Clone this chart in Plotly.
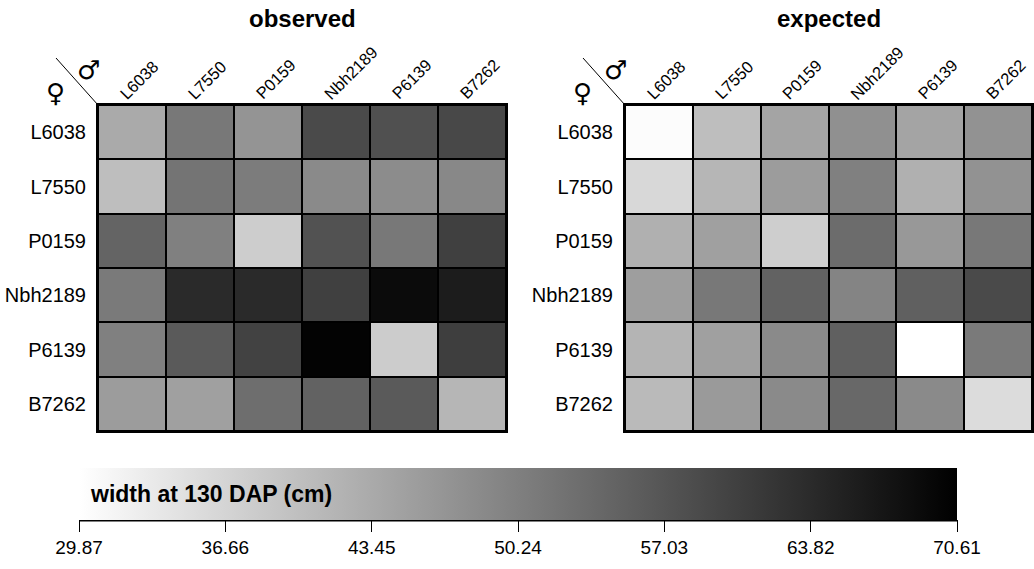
import plotly.graph_objects as go

# Parental lines (females on rows, males on columns)
lines = ["L6038", "L7550", "P0159", "Nbh2189", "P6139", "B7262"]

# Plant width at 130 days after planting (cm)
observed = [
    [43.45, 51.44, 46.96, 58.79, 57.83, 59.11],
    [40.25, 52.08, 50.80, 48.56, 48.24, 48.88],
    [54.63, 50.16, 37.86, 57.51, 51.44, 60.38],
    [51.12, 63.90, 63.90, 60.38, 68.85, 66.14],
    [50.16, 56.23, 60.06, 70.20, 38.02, 60.70],
    [45.69, 45.05, 53.04, 54.95, 56.23, 41.53],
]
expected = [
    [30.35, 40.25, 44.41, 47.60, 44.41, 47.28],
    [36.10, 41.53, 45.69, 50.16, 42.49, 47.28],
    [42.49, 45.05, 37.70, 53.35, 46.33, 51.44],
    [45.37, 51.44, 54.95, 49.52, 55.27, 58.79],
    [41.85, 45.05, 48.56, 55.27, 29.87, 51.12],
    [40.89, 46.01, 48.56, 53.99, 48.56, 35.46],
]

zmin, zmax = 29.87, 70.61
cbar_ticks = [29.87, 36.66, 43.45, 50.24, 57.03, 63.82, 70.61]

W, H = 1034, 569
FONT = "Liberation Sans, Arial, Helvetica, sans-serif"

def px(x):
    return x / W

def py(y):
    return 1 - y / H

fig = go.Figure()

panels = [
    ("observed", observed, "x", "y", (98, 506)),
    ("expected", expected, "x2", "y2", (625, 1032)),
]

for name, z, xa, ya, _ in panels:
    fig.add_trace(go.Heatmap(
        z=z, x=lines, y=lines, xaxis=xa, yaxis=ya,
        coloraxis="coloraxis", xgap=2, ygap=2, name=name,
        hovertemplate="♀ %{y} × ♂ %{x}<br>%{z:.2f} cm<extra>" + name + "</extra>",
    ))

n = len(lines)
axis_common = dict(
    showline=True, linecolor="black", linewidth=2, mirror=True,
    showgrid=False, zeroline=False, ticks="",
    tickfont=dict(family=FONT, size=20, color="black"),
)
y_top, y_bot = 105, 431
layout_axes = {}
for i, (name, z, xa, ya, (x0, x1)) in enumerate(panels):
    sfx = "" if i == 0 else str(i + 1)
    layout_axes["xaxis" + sfx] = dict(
        axis_common, domain=[px(x0), px(x1)], side="top",
        anchor="y" + sfx, type="category", showticklabels=False,
        range=[-0.5, n - 0.5], autorange=False,
    )
    layout_axes["yaxis" + sfx] = dict(
        axis_common, domain=[py(y_bot), py(y_top)],
        range=[n - 0.5, -0.5], autorange=False,
        anchor="x" + sfx, type="category", ticklabelstandoff=6,
    )

fig.update_layout(
    width=W, height=H,
    margin=dict(l=0, r=0, t=0, b=0),
    paper_bgcolor="white", plot_bgcolor="black",
    font=dict(family=FONT, color="black"),
    coloraxis=dict(
        cmin=zmin, cmax=zmax,
        colorscale=[[0, "white"], [1, "black"]],
        colorbar=dict(
            orientation="h",
            x=px(79), xanchor="left", y=py(468), yanchor="top",
            lenmode="pixels", len=878,
            thicknessmode="pixels", thickness=52,
            xpad=0, ypad=0, outlinewidth=0,
            tickvals=cbar_ticks, ticktext=[f"{v:.2f}" for v in cbar_ticks],
            ticks="outside", ticklen=12, tickwidth=1, tickcolor="black",
            tickfont=dict(family=FONT, size=19, color="black"),
        ),
    ),
    **layout_axes,
)

shapes = []
annotations = []
for name, z, xa, ya, (x0, x1) in panels:
    # panel title
    annotations.append(dict(
        text=f"<b>{name}</b>", x=px((x0 + x1) / 2), y=py(19),
        xref="paper", yref="paper", showarrow=False,
        font=dict(family=FONT, size=24, color="black"),
        xanchor="center", yanchor="middle",
    ))
    # male line labels, slanted above each column
    for m in lines:
        annotations.append(dict(
            text=m, x=m, y=py(y_top - 1), xref=xa, yref="paper",
            showarrow=False, textangle=-45, borderpad=0,
            font=dict(family=FONT, size=16.5, color="black"),
            xanchor="left", yanchor="bottom", xshift=-17,
        ))
    # corner divider between female and male labels
    shapes.append(dict(
        type="line", xref="paper", yref="paper",
        x0=px(x0), y0=py(y_top), x1=px(x0 - 42), y1=py(y_top - 47),
        line=dict(color="black", width=1),
    ))
    annotations.append(dict(
        text="♂", x=px(x0 - 10), y=py(70), xref="paper", yref="paper",
        showarrow=False, font=dict(family="DejaVu Sans", size=26, color="black"),
        xanchor="center", yanchor="middle",
    ))
    annotations.append(dict(
        text="♀", x=px(x0 - 43), y=py(93), xref="paper", yref="paper",
        showarrow=False, font=dict(family="DejaVu Sans", size=26, color="black"),
        xanchor="center", yanchor="middle",
    ))

# colour bar label and baseline
annotations.append(dict(
    text="<b>width at 130 DAP (cm)</b>", x=px(88), y=py(494),
    xref="paper", yref="paper", showarrow=False,
    font=dict(family=FONT, size=23, color="black"),
    xanchor="left", yanchor="middle",
))
shapes.append(dict(
    type="line", xref="paper", yref="paper",
    x0=px(79), y0=py(520.5), x1=px(957), y1=py(520.5),
    line=dict(color="black", width=2),
))

fig.update_layout(shapes=shapes, annotations=annotations)

fig.write_html("out.html")
